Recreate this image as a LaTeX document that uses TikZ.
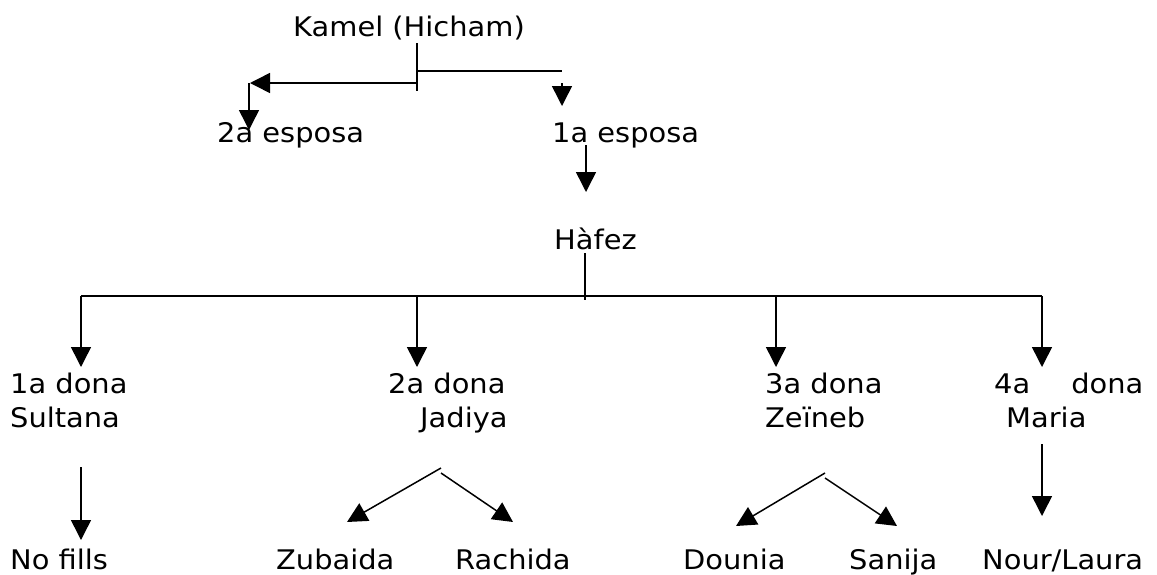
\documentclass[tikz,border=0pt]{standalone}
\usepackage{fontspec}
\setmainfont{DejaVu Sans}[FakeStretch=1.07]
\usetikzlibrary{arrows.meta}
\tikzset{lbl/.style={anchor=base west,inner sep=0pt,font=\fontsize{27}{34}\selectfont},
    wife/.style={lbl,align=left},
    link/.style={line width=1.5pt},
    arr/.style={link,-{Triangle[length=20pt,width=20pt]}},
    }

\begin{document}
\begin{tikzpicture}[x=1pt,y=-1pt]
\useasboundingbox (0,0) rectangle (1157,574);
% people (two-line nodes sit on their last line)
\node[lbl] (kamel) at (293,36) {Kamel (Hicham)};
\node[lbl] (esp2) at (217,142) {2a esposa};
\node[lbl] (esp1) at (552,142) {1a esposa};
\node[lbl] (hafez) at (554,249) {Hàfez};
\node[wife] (dona1) at (10,427) {1a dona\\Sultana};
\node[wife] (dona2) at (388,427) {2a dona\\\hspace*{32pt}Jadiya};
\node[wife] (dona3) at (765,427) {3a dona\\Zeïneb};
\node[wife] (dona4) at (994,427) {4a\hspace*{41pt}dona\\\hspace*{12pt}Maria};
\node[lbl] (nofills) at (10,569) {No fills};
\node[lbl] (zubaida) at (276,569) {Zubaida};
\node[lbl] (rachida) at (455,569) {Rachida};
\node[lbl] (dounia) at (683,569) {Dounia};
\node[lbl] (sanija) at (849,569) {Sanija};
\node[lbl] (nour) at (982,569) {Nour/Laura};
% Kamel and his wives
\coordinate (k1) at (417,43);
\coordinate (k2) at (417,91);
\coordinate (kr) at (562,71);
\coordinate (kl) at (250,83);
\coordinate (e2) at (249,130);
\coordinate (e1) at (562,106);
\draw[link] (k1) -- (k2);
\draw[link] (k1 |- kr) -- (kr);
\draw[arr] (k1 |- kl) -- (kl);
\draw[arr] (kl -| e2) -- (e2);
\draw[arr] (kl -| e1) -- (e1);
% Hafez
\coordinate (h1) at (586,145);
\coordinate (h2) at (586,192);
\draw[arr] (h1) -- (h2);
\coordinate (h3) at (585,253);
\coordinate (h4) at (585,300);
\draw[link] (h3) -- (h4);
\coordinate (busw) at (81,296);
\coordinate (buse) at (1042,296);
\draw[link] (busw) -- (buse);
\coordinate (row) at (0,367);
\foreach \x [count=\i] in {81,417,776,1042}{
    \coordinate (d\i) at (\x,296);
    \draw[arr] (d\i) -- (d\i |- row);
}
% children
\coordinate (s1) at (81,467);
\coordinate (s2) at (81,540);
\draw[arr] (s1) -- (s2);
\coordinate (j1) at (441,468);
\coordinate (j2) at (441,473);
\coordinate (jl) at (347,522);
\coordinate (jr) at (513,522);
\draw[arr] (j1) -- (jl);
\draw[arr] (j2) -- (jr);
\coordinate (z1) at (825,473);
\coordinate (z2) at (825,478);
\coordinate (zl) at (736,526);
\coordinate (zr) at (897,526);
\draw[arr] (z1) -- (zl);
\draw[arr] (z2) -- (zr);
\coordinate (m1) at (1042,444);
\coordinate (m2) at (1042,516);
\draw[arr] (m1) -- (m2);
\end{tikzpicture}
\end{document}
